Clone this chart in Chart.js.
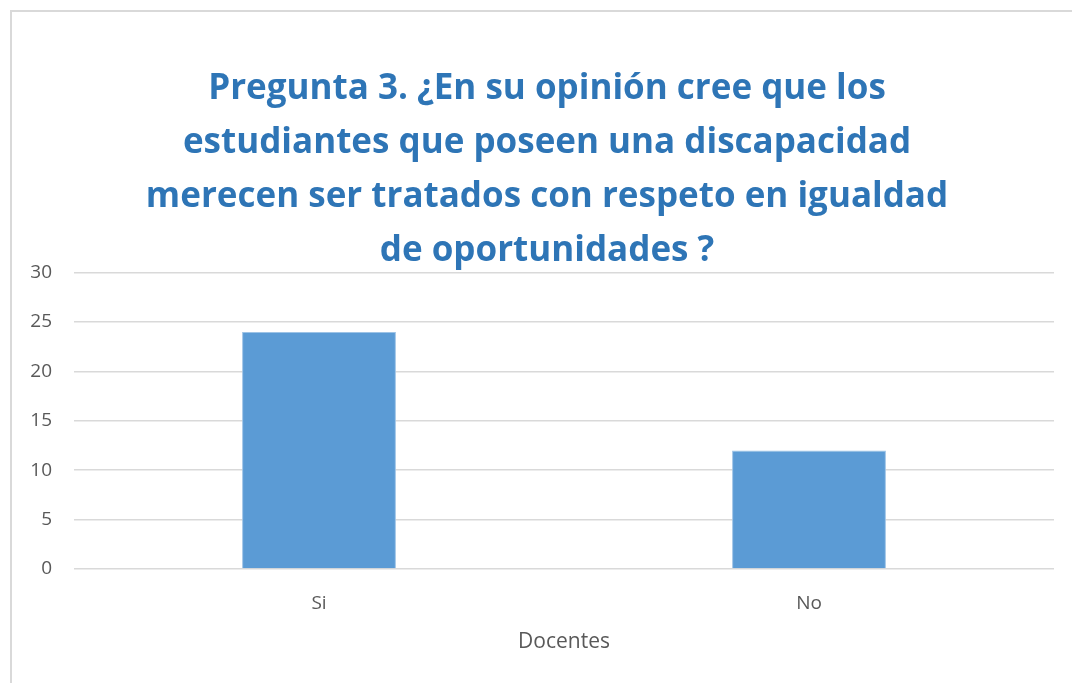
<!DOCTYPE html>
<html>
<head>
<meta charset="utf-8">
<script src="https://cdn.jsdelivr.net/npm/chart.js@4"></script>
<style>
  html, body { margin: 0; padding: 0; background: #fff; overflow: hidden; }
  #marco { position: absolute; left: 10px; top: 10px; width: 1100px; height: 700px; border: 2px solid #d9d9d9; box-sizing: border-box; }
  #wrap { position: absolute; left: 10px; top: 10px; width: 1074px; height: 700px; }
</style>
</head>
<body>
<div id="marco"></div>
<div id="wrap"><canvas id="grafico"></canvas></div>
<script>
// datos del grafico
const categorias = ['Si', 'No'];
const valores = [24, 12];
const titulo = [
  'Pregunta 3. ¿En su opinión cree que los',
  'estudiantes que poseen una discapacidad',
  'merecen ser tratados con respeto en igualdad',
  'de oportunidades ?'
];
const tituloEje = 'Docentes';

const ctx = document.getElementById('grafico').getContext('2d');
const chart = new Chart(ctx, {
  type: 'bar',
  data: {
    labels: categorias,
    datasets: [{
      label: tituloEje,
      data: valores,
      backgroundColor: '#5b9bd5',
      borderColor: '#9dc3e6',
      borderWidth: 1,
      categoryPercentage: 1,
      barPercentage: 0.314,
    }],
  },
  options: {
    responsive: true,
    maintainAspectRatio: false,
    animation: false,
    layout: { padding: 0 },
    plugins: {
      legend: { display: false },
      tooltip: { enabled: false },
      title: {
        display: true,
        text: titulo,
        color: '#2e75b6',
        font: { family: 'Open Sans', size: 35, weight: 'bold', lineHeight: 1.54 },
        padding: { top: 52, bottom: -5 },
      },
    },
    scales: {
      x: {
        grid: { display: false },
        border: { display: false },
        ticks: { color: '#595959', font: { family: 'Open Sans', size: 19 }, padding: 15 },
        title: {
          display: true,
          text: tituloEje,
          color: '#595959',
          font: { family: 'Open Sans', size: 21 },
          padding: { top: 0, bottom: 55 },
        },
        afterFit: (scale) => { scale.height = 141; },
      },
      y: {
        min: 0,
        max: 30,
        ticks: { stepSize: 5, color: '#595959', font: { family: 'Open Sans', size: 19 }, padding: 22 },
        grid: { color: '#d9d9d9', lineWidth: 1.5, drawTicks: false },
        border: { display: false },
        afterFit: (scale) => { scale.width = 64; },
      },
      // eje vacio a la derecha, solo para dejar margen
      margen: {
        type: 'linear',
        position: 'right',
        ticks: { display: false },
        grid: { display: false },
        border: { display: false },
        afterFit: (scale) => { scale.width = 30; },
      },
    },
  },
});
</script>
</body>
</html>
